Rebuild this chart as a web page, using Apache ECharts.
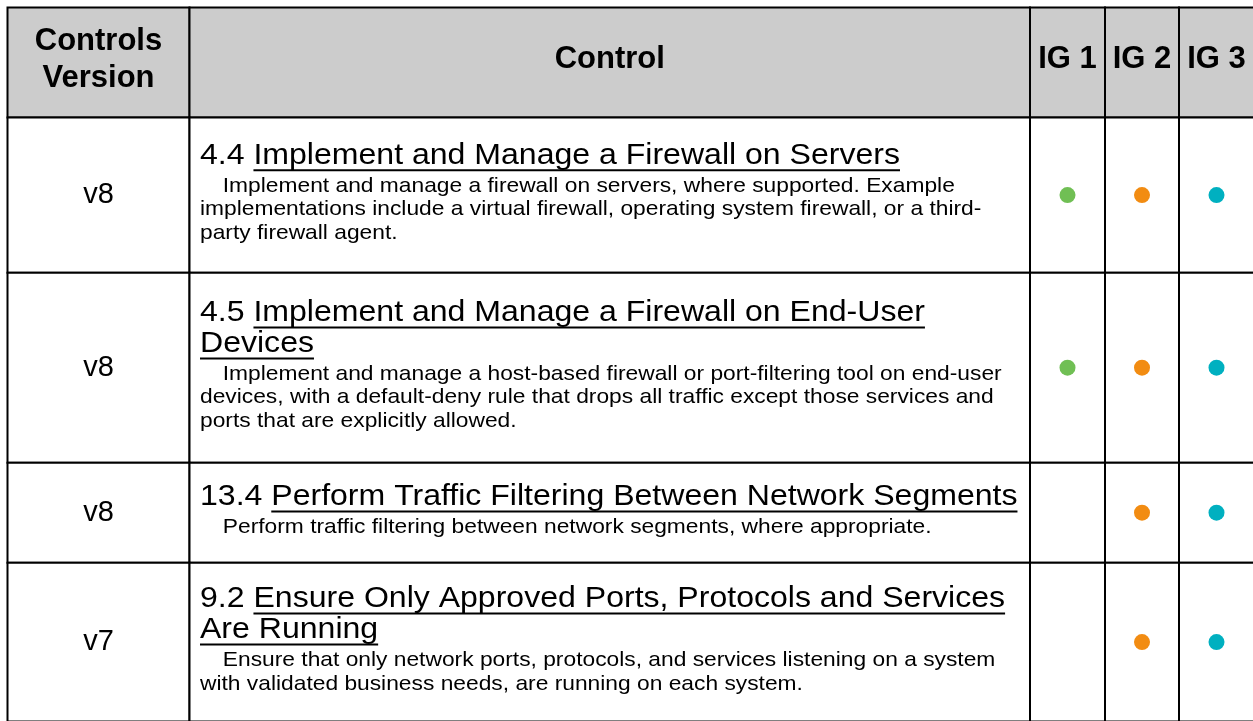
<!DOCTYPE html>
<html><head><meta charset="utf-8">
<script src="https://cdn.jsdelivr.net/npm/echarts@6/dist/echarts.min.js"></script>
<style>html,body{margin:0;padding:0;background:#fff}#c{width:1253px;height:721px}</style>
</head><body><div id="c"></div>
<script>
// ---------- data ----------
const headers = ['Controls\nVersion', 'Control', 'IG 1', 'IG 2', 'IG 3'];
const versions = ['v8', 'v8', 'v8', 'v7'];
const controlIds = ['4.4', '4.5', '13.4', '9.2'];
const controlTitles = [
  ['Implement and Manage a Firewall on Servers'],
  ['Implement and Manage a Firewall on End-User', 'Devices'],
  ['Perform Traffic Filtering Between Network Segments'],
  ['Ensure Only Approved Ports, Protocols and Services', 'Are Running']
];
const controlDescs = [
  ['Implement and manage a firewall on servers, where supported. Example',
   'implementations include a virtual firewall, operating system firewall, or a third-',
   'party firewall agent.'],
  ['Implement and manage a host-based firewall or port-filtering tool on end-user',
   'devices, with a default-deny rule that drops all traffic except those services and',
   'ports that are explicitly allowed.'],
  ['Perform traffic filtering between network segments, where appropriate.'],
  ['Ensure that only network ports, protocols, and services listening on a system',
   'with validated business needs, are running on each system.']
];
const ig1 = [true, true, false, false];
const ig2 = [true, true, true, true];
const ig3 = [true, true, true, true];

// ---------- layout ----------
const W = 1253, H = 721;
const colEdges = [7.5, 189.5, 1030, 1105, 1179, 1254];
const rowEdges = [7.5, 117.5, 272.7, 462.7, 562.7, 721.5];
const L = {
  family: '"Liberation Sans", Arial, sans-serif',
  headSize: 31, headLH: 37, headShift: -3,
  verSize: 29,
  titleSize: 29, titleLH: 31, titleStretch: 1.105,
  descSize: 21, descLH: 23.5, descStretch: 1.085,
  titleDescGap: 27,
  padLeft: 10.5, indent: 21,
  ulOffset: 4, ulWidth: 2,
  border: 2, headerFill: '#cccccc',
  dotSize: 16,
  colors: ['#70bf54', '#f28c12', '#00b0c0']
};
const fnt = (s, bold) => (bold ? 'bold ' : '') + s + 'px ' + L.family;
const mctx = document.createElement('canvas').getContext('2d');
function textW(str, font) { mctx.font = font; return mctx.measureText(str).width; }
function txt(str, x, baseline, size) {
  return { type: 'text', style: { text: str, x: x, y: baseline - 0.3465 * size, font: fnt(size),
    fill: '#000', align: 'left', verticalAlign: 'middle' } };
}

function renderCell(params, api) {
  const c = api.value(0), r = api.value(1);
  const p0 = api.coord([colEdges[c], rowEdges[r]]);
  const p1 = api.coord([colEdges[c + 1], rowEdges[r + 1]]);
  const x0 = p0[0], y0 = p0[1], x1 = p1[0], y1 = p1[1];
  const cx = (x0 + x1) / 2, cy = (y0 + y1) / 2;
  const children = [{ type: 'rect', shape: { x: x0, y: y0, width: x1 - x0, height: y1 - y0 },
    style: { fill: r === 0 ? L.headerFill : '#ffffff', stroke: '#000', lineWidth: L.border } }];
  if (r === 0) {
    children.push({ type: 'text', style: { text: headers[c], x: cx, y: cy + L.headShift, align: 'center',
      verticalAlign: 'middle', font: fnt(L.headSize, true), lineHeight: L.headLH, fill: '#000' } });
  } else if (c === 0) {
    children.push({ type: 'text', style: { text: versions[r - 1], x: cx, y: cy, align: 'center',
      verticalAlign: 'middle', font: fnt(L.verSize), fill: '#000' } });
  } else if (c === 1) {
    const i = r - 1;
    const fT = fnt(L.titleSize);
    const titles = controlTitles[i], descs = controlDescs[i];
    const capT = 0.716 * L.titleSize;
    const total = capT + (titles.length - 1) * L.titleLH + L.titleDescGap +
      (descs.length - 1) * L.descLH + 0.21 * L.descSize;
    const base = cy - total / 2 + capT;
    const gt = [], gd = [];
    let last = base;
    titles.forEach((line, k) => {
      const b = base + k * L.titleLH;
      last = b;
      let x = 0;
      if (k === 0) {
        const idTxt = controlIds[i] + ' ';
        gt.push(txt(idTxt, 0, b, L.titleSize));
        x = textW(idTxt, fT);
      }
      gt.push(txt(line, x, b, L.titleSize));
      const w = textW(line, fT);
      gt.push({ type: 'line', shape: { x1: x, y1: b + L.ulOffset, x2: x + w, y2: b + L.ulOffset },
        style: { stroke: '#000', lineWidth: L.ulWidth } });
    });
    descs.forEach((line, k) => {
      const b = last + L.titleDescGap + k * L.descLH;
      gd.push(txt(line, k === 0 ? L.indent : 0, b, L.descSize));
    });
    children.push({ type: 'group', x: x0 + L.padLeft, y: 0, scaleX: L.titleStretch, children: gt });
    children.push({ type: 'group', x: x0 + L.padLeft, y: 0, scaleX: L.descStretch, children: gd });
  }
  return { type: 'group', children: children };
}

const cells = [];
for (let r = 0; r < rowEdges.length - 1; r++)
  for (let c = 0; c < colEdges.length - 1; c++) cells.push([c, r]);

function dotData(flags, col) {
  const out = [];
  flags.forEach((f, i) => {
    if (f) out.push([(colEdges[col] + colEdges[col + 1]) / 2, (rowEdges[i + 1] + rowEdges[i + 2]) / 2]);
  });
  return out;
}
const igFlags = [ig1, ig2, ig3];

const chart = echarts.init(document.getElementById('c'), null, { renderer: 'canvas' });
chart.setOption({
  animation: false,
  backgroundColor: '#ffffff',
  grid: { left: 0, right: 0, top: 0, bottom: 0 },
  xAxis: { type: 'value', min: 0, max: W, show: false },
  yAxis: { type: 'value', min: 0, max: H, inverse: true, show: false },
  series: [
    { type: 'custom', renderItem: renderCell, data: cells, silent: true, z: 1 }
  ].concat(igFlags.map((flags, k) => ({
    type: 'scatter', name: headers[k + 2], data: dotData(flags, k + 2), symbol: 'circle',
    symbolSize: L.dotSize, itemStyle: { color: L.colors[k], opacity: 1 }, z: 5, silent: true
  })))
});
</script>
</body></html>
